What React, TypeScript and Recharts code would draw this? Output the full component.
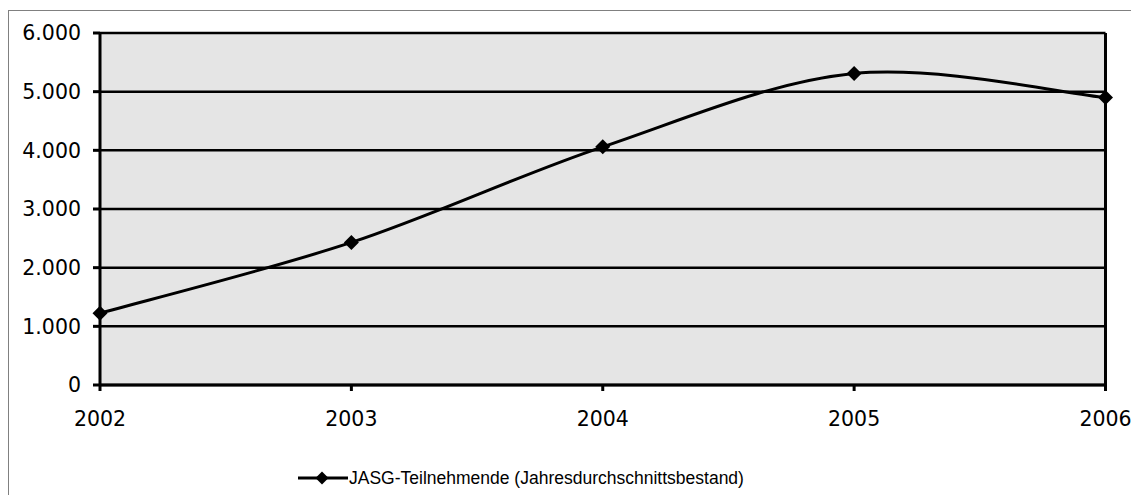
import React from "react";
import {
  LineChart,
  Line,
  XAxis,
  YAxis,
  CartesianGrid,
  Legend,
  ReferenceLine,
} from "recharts";

const years = ["2002", "2003", "2004", "2005", "2006"];
const participants = [1225, 2430, 4060, 5310, 4900];
const yTicks = [0, 1000, 2000, 3000, 4000, 5000, 6000];
const seriesName = "JASG-Teilnehmende (Jahresdurchschnittsbestand)";

const data = years.map((year, i) => ({ year, value: participants[i] }));

// Excel-like smoothed line (Catmull-Rom as cubic bezier)
const excelSmooth = (context: any) => {
  let pts: [number, number][] = [];
  return {
    areaStart() {},
    areaEnd() {},
    lineStart() {
      pts = [];
    },
    point(x: number, y: number) {
      pts.push([+x, +y]);
    },
    lineEnd() {
      if (!pts.length) return;
      context.moveTo(pts[0][0], pts[0][1]);
      for (let i = 0; i < pts.length - 1; i++) {
        const p0 = pts[Math.max(i - 1, 0)];
        const p1 = pts[i];
        const p2 = pts[i + 1];
        const p3 = pts[Math.min(i + 2, pts.length - 1)];
        context.bezierCurveTo(
          p1[0] + (p2[0] - p0[0]) / 6,
          p1[1] + (p2[1] - p0[1]) / 6,
          p2[0] - (p3[0] - p1[0]) / 6,
          p2[1] - (p3[1] - p1[1]) / 6,
          p2[0],
          p2[1]
        );
      }
    },
  };
};

const formatThousands = (v: number) =>
  v === 0 ? "0" : `${Math.floor(v / 1000)}.${String(v % 1000).padStart(3, "0")}`;

const Diamond = (props: any) => {
  const { cx, cy } = props;
  if (cx == null || cy == null) return null;
  const r = 7.5;
  return (
    <path
      d={`M${cx},${cy - r} L${cx + r},${cy} L${cx},${cy + r} L${cx - r},${cy} Z`}
      fill="#000"
    />
  );
};

function LegendContent() {
  return (
    <div
      style={{
        display: "flex",
        alignItems: "center",
        height: 30,
        fontFamily: "'Liberation Sans', Arial, sans-serif",
        fontSize: 17.5,
        color: "#000",
      }}
    >
      <svg width={50} height={16} style={{ marginRight: 1 }}>
        <line x1={0} y1={8} x2={50} y2={8} stroke="#000" strokeWidth={3} />
        <path d="M24,1.5 L30.5,8 L24,14.5 L17.5,8 Z" fill="#000" />
      </svg>
      <span>{seriesName}</span>
    </div>
  );
}

export default function App() {
  return (
    <div
      style={{
        position: "fixed",
        left: 0,
        top: 0,
        width: 1131,
        height: 495,
        overflow: "hidden",
        background: "#fff",
      }}
    >
      <div
        style={{
          position: "absolute",
          left: 8,
          top: 10,
          width: 1300,
          height: 700,
          border: "1.5px solid #808080",
        }}
      />
      <div style={{ position: "absolute", left: 0, top: 0 }}>
        <LineChart
          width={1131}
          height={495}
          data={data}
          margin={{ top: 33, right: 25.5, bottom: 30, left: 0 }}
        >
          <CartesianGrid
            vertical={false}
            stroke="#000"
            strokeWidth={2.5}
            fill="#e5e5e5"
            fillOpacity={1}
          />
          <XAxis
            dataKey="year"
            interval={0}
            height={50}
            tickSize={6}
            tickMargin={20}
            stroke="#000"
            strokeWidth={3}
            tick={{
              fill: "#000",
              fontSize: 20.5,
              fontFamily: "'DejaVu Sans', sans-serif",
            }}
          />
          <YAxis
            domain={[0, 6000]}
            ticks={yTicks}
            width={100}
            tickSize={7}
            tickMargin={12}
            stroke="#000"
            strokeWidth={3}
            tickFormatter={formatThousands}
            tick={{
              fill: "#000",
              fontSize: 20.5,
              fontFamily: "'DejaVu Sans', sans-serif",
            }}
          />
          <ReferenceLine x="2006" stroke="#000" strokeWidth={3} />
          <Legend
            verticalAlign="bottom"
            content={<LegendContent />}
            wrapperStyle={{ top: 463, left: 298, width: 600, bottom: "auto" }}
          />
          <Line
            type={excelSmooth as any}
            dataKey="value"
            name={seriesName}
            stroke="#000"
            strokeWidth={3}
            dot={<Diamond />}
            activeDot={false}
            isAnimationActive={false}
          />
        </LineChart>
      </div>
    </div>
  );
}
